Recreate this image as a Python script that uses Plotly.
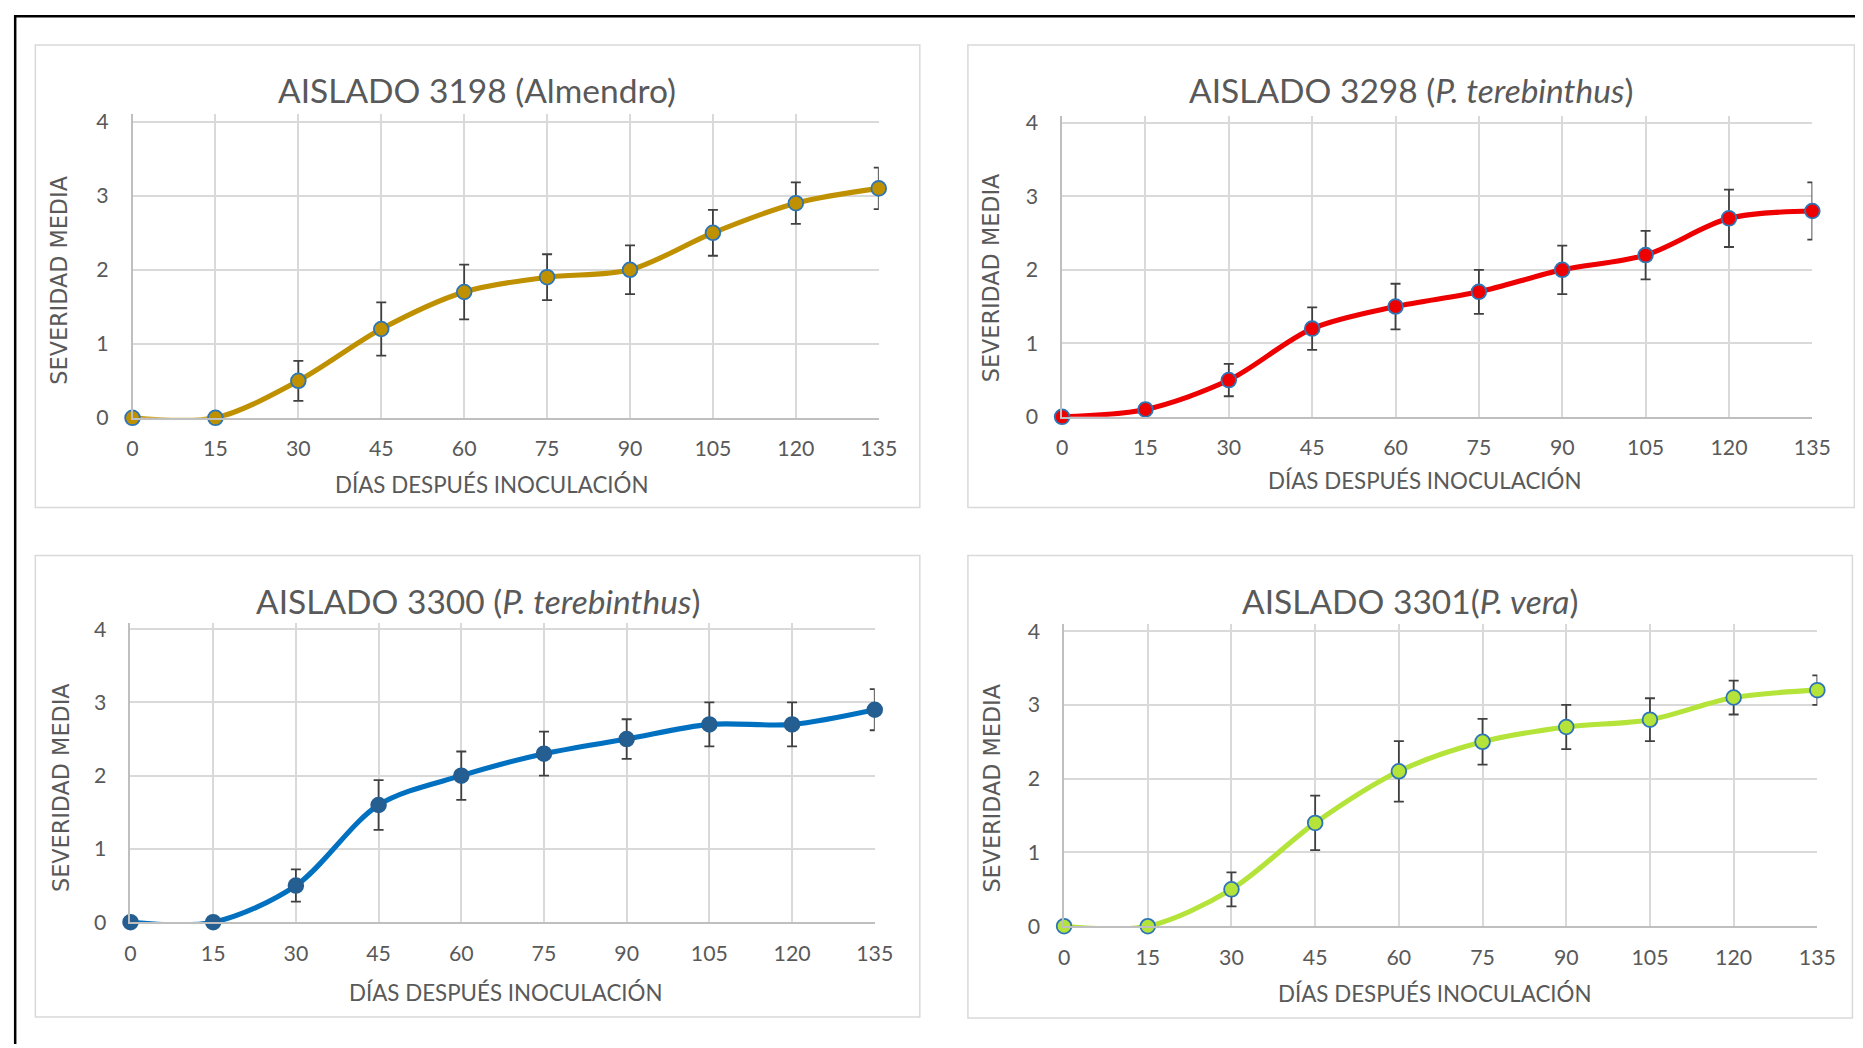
import plotly.graph_objects as go

# ---------------- data ----------------
days = [0, 15, 30, 45, 60, 75, 90, 105, 120, 135]

sev_3198 = [0, 0, 0.5, 1.2, 1.7, 1.9, 2.0, 2.5, 2.9, 3.1]
err_3198 = [0, 0, 0.27, 0.36, 0.37, 0.31, 0.33, 0.31, 0.28, 0.28]

sev_3298 = [0, 0.1, 0.5, 1.2, 1.5, 1.7, 2.0, 2.2, 2.7, 2.8]
err_3298 = [0, 0.08, 0.22, 0.29, 0.31, 0.30, 0.33, 0.33, 0.39, 0.39]

sev_3300 = [0, 0, 0.5, 1.6, 2.0, 2.3, 2.5, 2.7, 2.7, 2.9]
err_3300 = [0, 0, 0.22, 0.34, 0.33, 0.30, 0.27, 0.30, 0.30, 0.28]

sev_3301 = [0, 0, 0.5, 1.4, 2.1, 2.5, 2.7, 2.8, 3.1, 3.2]
err_3301 = [0, 0, 0.23, 0.37, 0.41, 0.31, 0.30, 0.29, 0.23, 0.20]

titles = [
    "AISLADO 3198 (Almendro)",
    "AISLADO 3298 (<i>P. terebinthus</i>)",
    "AISLADO 3300 (<i>P. terebinthus</i>)",
    "AISLADO 3301(<i>P. vera</i>)",
]
x_title = "DÍAS DESPUÉS INOCULACIÓN"
y_title = "SEVERIDAD MEDIA"
y_ticks = [0, 1, 2, 3, 4]

series = [sev_3198, sev_3298, sev_3300, sev_3301]
errors = [err_3198, err_3298, err_3300, err_3301]

# ---------------- styling / layout ----------------
FW, FH = 1875, 1048          # figure size in css px
ORG_X, ORG_Y = 13.7, 13.9    # where the figure origin lands in the photo
SC = 0.985                   # photo scale observed
TEXT = "#595959"
GRID = "#d9d9d9"
AXIS = "#bfbfbf"
FONT = "Lato, 'Open Sans', sans-serif"

line_colors = ["#BF9000", "#EE0000", "#0070C0", "#B4E33A"]
marker_fill = ["#BF9000", "#EE0000", "#255E91", "#B4E33A"]
marker_edge = ["#2E75B6", "#2E75B6", "#255E91", "#2E75B6"]

# target pixel geometry (in the 1863x1048 picture) for each panel
panels = [
    dict(left=132, right=877, y0=418, y4=121, top=113, box=(35, 44, 918, 508),
         title=(476, 89), xt=(490, 485), yt=(59, 280)),
    dict(left=1060, right=1809, y0=417, y4=122, top=115, box=(966, 44, 1851, 508),
         title=(1408, 89), xt=(1422, 481), yt=(989, 277)),
    dict(left=130, right=873, y0=924, y4=630, top=624, box=(35, 556, 918, 1019),
         title=(477, 602), xt=(504, 995), yt=(60, 789)),
    dict(left=1062, right=1814, y0=928, y4=632, top=625, box=(966, 556, 1849, 1020),
         title=(1407, 602), xt=(1432, 996), yt=(990, 789)),
]


def fx(x):
    return ((x - ORG_X) / SC) / FW


def fy(y):
    return 1 - ((y - ORG_Y) / SC) / FH


def fs(s):
    return s / SC


fig = go.Figure()
shapes = []
annotations = []

for i, p in enumerate(panels):
    n = "" if i == 0 else str(i + 1)
    xa, ya = "x" + n, "y" + n
    top_val = 4 * (p["y0"] - p["top"]) / (p["y0"] - p["y4"])

    fig.add_trace(go.Scatter(
        x=days, y=series[i], xaxis=xa, yaxis=ya,
        mode="lines+markers",
        line=dict(color=line_colors[i], width=fs(5), shape="spline", smoothing=0.9),
        marker=dict(size=fs(14.5), color=marker_fill[i],
                    line=dict(color=marker_edge[i], width=1.8)),
        error_y=dict(type="data", array=errors[i], visible=True,
                     color="#404040", thickness=1.8, width=5),
        cliponaxis=False, showlegend=False, hoverinfo="x+y",
    ))

    fig.update_layout(**{
        "xaxis" + n: dict(
            domain=[fx(p["left"]), fx(p["right"])], anchor=ya,
            range=[0, 135], tickmode="array", tickvals=days,
            ticktext=[str(d) for d in days],
            showgrid=True, gridcolor=GRID, gridwidth=1.5,
            showline=True, linecolor=AXIS, linewidth=1.5,
            zeroline=False, ticks="", ticklabelstandoff=11,
            tickfont=dict(family=FONT, size=fs(21), color=TEXT),
        ),
        "yaxis" + n: dict(
            domain=[fy(p["y0"]), fy(p["top"])], anchor=xa,
            range=[0, top_val], tickmode="array", tickvals=y_ticks,
            showgrid=True, gridcolor=GRID, gridwidth=1.5,
            showline=True, linecolor=AXIS, linewidth=1.5,
            zeroline=False, ticks="", ticklabelstandoff=18,
            tickfont=dict(family=FONT, size=fs(21), color=TEXT),
        ),
    })

    bx0, by0, bx1, by1 = p["box"]
    shapes.append(dict(type="rect", xref="paper", yref="paper",
                       x0=fx(bx0), x1=fx(bx1), y0=fy(by1), y1=fy(by0),
                       line=dict(color=GRID, width=1.5), layer="below"))

    annotations.append(dict(text=titles[i], xref="paper", yref="paper",
                            x=fx(p["title"][0]), y=fy(p["title"][1]),
                            xanchor="center", yanchor="middle", showarrow=False,
                            font=dict(family=FONT, size=fs(33), color=TEXT)))
    annotations.append(dict(text=x_title, xref="paper", yref="paper",
                            x=fx(p["xt"][0]), y=fy(p["xt"][1]),
                            xanchor="center", yanchor="middle", showarrow=False,
                            font=dict(family=FONT, size=fs(22), color=TEXT)))
    annotations.append(dict(text=y_title, xref="paper", yref="paper",
                            x=fx(p["yt"][0]), y=fy(p["yt"][1]), textangle=-90,
                            xanchor="center", yanchor="middle", showarrow=False,
                            font=dict(family="DejaVu Sans, sans-serif", size=fs(22),
                                      color=TEXT)))

# outer frame (top and left edges)
shapes.append(dict(type="line", xref="paper", yref="paper",
                   x0=0, x1=1, y0=1 - 1.2 / FH, y1=1 - 1.2 / FH,
                   line=dict(color="black", width=2.5)))
shapes.append(dict(type="line", xref="paper", yref="paper",
                   x0=1.2 / FW, x1=1.2 / FW, y0=0, y1=1,
                   line=dict(color="black", width=2.5)))

fig.update_layout(
    width=FW, height=FH,
    margin=dict(l=0, r=0, t=0, b=0),
    paper_bgcolor="white", plot_bgcolor="white",
    shapes=shapes, annotations=annotations,
)

fig.write_html("out.html")
